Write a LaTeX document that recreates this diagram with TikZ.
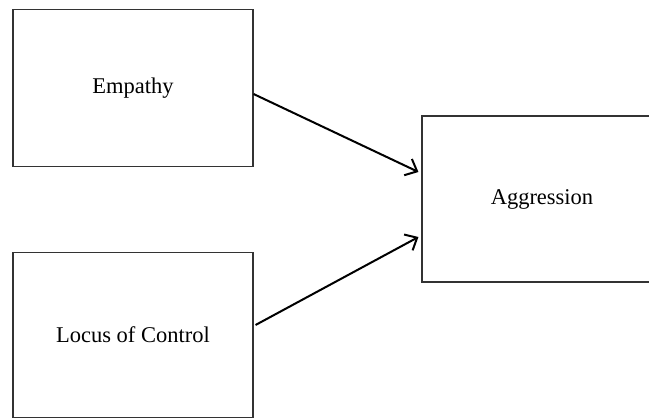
\documentclass[tikz,border=0pt]{standalone}
\usepackage{fontspec}
\setmainfont{Liberation Serif}
\usetikzlibrary{arrows.meta}
\begin{document}
\begin{tikzpicture}[x=1pt,y=-1pt,
  box/.style={draw=black!80, line width=1.1pt, fill=white, minimum width=240pt, inner sep=0pt, font=\fontsize{22.5}{27}\selectfont},
  arr/.style={line width=2pt, -{Straight Barb[length=10pt,width=18pt,line width=2pt]}}]
\useasboundingbox (0,0) rectangle (649,419);
\clip (0,0) rectangle (649,419);
\node[box, minimum height=157pt] (emp) at (133,88) {Empathy};
\node[box, minimum height=164.6pt] (loc) at (133,335) {Locus of Control};
\node[box, minimum height=166pt] (agg) at (542,199) {Aggression};
\draw[arr] ([yshift=-6pt]emp.east) -- ([xshift=-3pt,yshift=27pt]agg.west);
\draw[arr] ([xshift=2pt,yshift=10pt]loc.east) -- ([xshift=-3pt,yshift=-38pt]agg.west);
\end{tikzpicture}
\end{document}
